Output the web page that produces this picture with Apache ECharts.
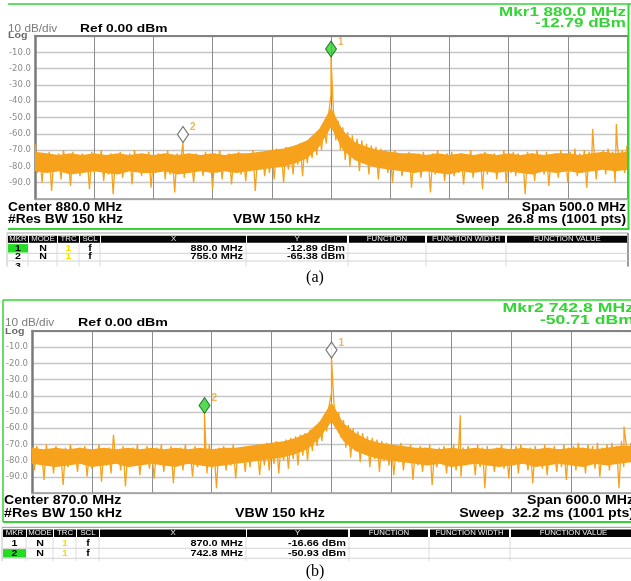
<!DOCTYPE html>
<html>
<head>
<meta charset="utf-8">
<script src="https://cdn.jsdelivr.net/npm/echarts@6/dist/echarts.min.js"></script>
<style>
  html, body { margin: 0; padding: 0; background: #fff; }
  #main { width: 631px; height: 581px; }
</style>
</head>
<body>
<div id="main"></div>
<script>
// ---- panel (a) ----
var centerA = 880.0, spanA = 500.0, sweepA = '26.8', stepA = 2.0;
var noiseA = [
  -66, -84, -72, -90, -73, -81, -71, -95, -74, -83,
  -72, -88, -70, -79, -75, -92, -71, -82, -73, -86,
  -72, -80, -74, -94, -71, -84, -76, -81, -70, -89,
  -73, -85, -72, -97, -74, -80, -71, -87, -75, -83,
  -72, -91, -70, -82, -74, -86, -73, -79, -71, -93,
  -75, -84, -72, -81, -73, -88, -70, -85, -74, -96,
  -72, -80, -71, -87, -73, -83, -74, -90, -72, -82,
  -75, -86, -71, -81, -73, -94, -72, -84, -70, -88,
  -74, -82, -72, -91, -73, -80, -71, -85, -75, -89,
  -72, -83, -70, -95, -74, -81, -72, -86, -71, -84,
  -70, -88, -69, -80, -71, -90, -68, -82, -69, -85,
  -67, -79, -66, -86, -65, -78, -63, -75, -62, -73,
  -58, -70, -54, -66, -48, -36, -45, -64, -52, -70,
  -56, -76, -59, -80, -61, -74, -63, -83, -64, -78,
  -66, -85, -67, -79, -68, -88, -69, -81, -70, -84,
  -71, -90, -70, -82, -72, -86, -73, -80, -71, -93,
  -74, -83, -72, -87, -71, -81, -73, -96, -72, -85,
  -70, -82, -74, -89, -72, -80, -71, -86, -75, -84,
  -72, -91, -73, -81, -70, -87, -74, -83, -72, -94,
  -71, -85, -73, -80, -72, -88, -74, -82, -70, -90,
  -73, -84, -71, -86, -72, -81, -75, -97, -71, -83,
  -72, -89, -70, -80, -74, -85, -71, -92, -73, -82,
  -72, -87, -70, -83, -73, -90, -71, -81, -69, -86,
  -72, -84, -70, -93, -71, -80, -69, -88, -72, -82,
  -70, -85, -69, -81, -71, -90, -68, -79, -70, -84,
  -67
];
// dense part of the noise floor, every 10 MHz
var bandStepA = 10;
var bandTopA = [
  -71, -72, -73, -72, -73, -72, -73, -72, -73, -72,
  -73, -72, -73, -72, -73, -72, -73, -72, -72, -71,
  -70, -69, -67, -64, -57, -44, -58, -65, -68, -70,
  -71, -72, -72, -73, -72, -73, -72, -73, -72, -73,
  -72, -73, -72, -73, -72, -72, -73, -72, -71, -72, -71
];
var bandBotA = [
  -83, -84, -83, -85, -84, -83, -84, -85, -83, -84,
  -84, -83, -85, -84, -83, -84, -83, -84, -83, -82,
  -81, -80, -78, -75, -68, -56, -70, -76, -79, -81,
  -82, -83, -84, -83, -84, -85, -83, -84, -83, -84,
  -83, -84, -85, -83, -84, -83, -84, -83, -82, -83, -82
];
// [offset from center MHz, level dBm]
var spikesA = [[-125, -65.38], [0, -12.89], [221, -57], [241, -54]];
var mkrFreqA = [880.0, 755.0];
var mkrLevelA = [-12.89, -65.38];
var activeA = 0;
var readFreqA = 880.0, readLevelA = -12.79;

// ---- panel (b) ----
var centerB = 870.0, spanB = 600.0, sweepB = '32.2', stepB = 2.4;
var noiseB = [
  -72, -86, -71, -80, -74, -92, -70, -83, -73, -88,
  -71, -81, -75, -95, -72, -84, -70, -79, -74, -87,
  -72, -82, -71, -90, -73, -85, -75, -80, -70, -93,
  -74, -83, -72, -88, -64, -81, -73, -86, -71, -96,
  -74, -84, -72, -80, -70, -89, -73, -82, -71, -85,
  -75, -91, -72, -81, -70, -87, -74, -83, -71, -94,
  -73, -80, -72, -86, -70, -82, -74, -90, -71, -84,
  -73, -81, -72, -88, -70, -85, -74, -97, -72, -80,
  -71, -86, -73, -83, -70, -91, -74, -81, -72, -87,
  -71, -84, -73, -80, -70, -89, -72, -83, -69, -86,
  -70, -82, -68, -88, -69, -80, -67, -85, -66, -79,
  -65, -83, -64, -77, -63, -80, -61, -74, -59, -71,
  -56, -68, -52, -62, -46, -38, -44, -60, -50, -66,
  -55, -72, -58, -78, -60, -74, -62, -81, -63, -76,
  -65, -84, -66, -79, -67, -87, -68, -80, -69, -83,
  -70, -89, -71, -81, -69, -86, -72, -80, -70, -92,
  -73, -83, -71, -87, -72, -81, -70, -95, -74, -84,
  -72, -80, -71, -88, -73, -82, -70, -86, -74, -90,
  -72, -83, -71, -80, -73, -89, -70, -84, -72, -97,
  -71, -82, -74, -87, -72, -80, -70, -85, -73, -91,
  -72, -83, -71, -88, -70, -81, -74, -86, -72, -94,
  -71, -80, -73, -85, -70, -89, -72, -82, -71, -87,
  -73, -84, -70, -92, -72, -81, -71, -86, -69, -83,
  -72, -88, -70, -80, -71, -85, -69, -90, -72, -82,
  -70, -86, -69, -81, -71, -97, -68, -84, -70, -80,
  -69
];
var bandStepB = 12;
var bandTopB = [
  -72, -73, -72, -73, -72, -73, -72, -73, -72, -73,
  -72, -73, -72, -73, -72, -73, -72, -72, -71, -70,
  -69, -68, -66, -63, -56, -44, -57, -63, -67, -69,
  -70, -71, -72, -72, -73, -72, -73, -72, -73, -72,
  -73, -72, -73, -72, -73, -72, -72, -73, -72, -71, -71
];
var bandBotB = [
  -82, -83, -84, -83, -82, -84, -83, -82, -84, -83,
  -82, -83, -84, -82, -83, -84, -83, -82, -81, -80,
  -79, -78, -76, -73, -66, -56, -68, -74, -77, -79,
  -80, -81, -82, -83, -82, -84, -83, -82, -83, -84,
  -83, -82, -84, -83, -82, -83, -84, -82, -83, -82, -81
];
var spikesB = [[-127.2, -50.93], [0, -16.66], [129, -52], [293, -59]];
var mkrFreqB = [870.0, 742.8];
var mkrLevelB = [-16.66, -50.93];
var activeB = 1;
var readFreqB = 742.8, readLevelB = -50.71;

var headers = ['MKR', 'MODE', 'TRC', 'SCL', 'X', 'Y', 'FUNCTION', 'FUNCTION WIDTH', 'FUNCTION VALUE'];

var GREEN = '#33d433';
var ORANGE = '#f6a21c';
var SANS = '"Liberation Sans", Arial, sans-serif';

function buildTrace(noise, step, spikes, span) {
  var pts = noise.map(function (v, i) { return [-span / 2 + i * step, v]; });
  spikes.forEach(function (s) { pts.push(s); });
  pts.sort(function (a, b) { return a[0] - b[0]; });
  return pts;
}

// text placed by baseline
function txt(x, base, s, o) {
  o = o || {};
  var fs = o.size || 12;
  return {
    type: 'text', x: x, y: o.mid != null ? o.mid : base - 0.35 * fs, scaleX: o.sx || 1, z: 20, silent: true,
    style: {
      text: s, fill: o.color || '#000', fontSize: fs,
      fontWeight: o.bold ? 'bold' : 'normal', fontFamily: o.family || SANS,
      align: o.align || 'left', verticalAlign: 'middle'
    }
  };
}
function ln(x1, y1, x2, y2, color, w) {
  return { type: 'line', z: 15, silent: true, shape: { x1: x1, y1: y1, x2: x2, y2: y2 }, style: { stroke: color, lineWidth: w } };
}
function box(x, y, w, h, fill, z) {
  return { type: 'rect', z: z || 16, silent: true, shape: { x: x, y: y, width: w, height: h }, style: { fill: fill } };
}

function panelGraphics(L, d) {
  var g = [];
  // green frame
  L.green.forEach(function (s) { g.push(ln(s[0], s[1], s[2], s[3], GREEN, s[4])); });
  // marker readout
  g.push(txt(L.readX, L.readY[0], 'Mkr' + (d.active + 1) + ' ' + d.readFreq.toFixed(1) + ' MHz', { size: 12, bold: true, color: GREEN, align: 'right', sx: L.readSx }));
  g.push(txt(L.readX, L.readY[1], d.readLevel.toFixed(2) + ' dBm', { size: 12, bold: true, color: GREEN, align: 'right', sx: L.readSx }));
  // scale header
  g.push(txt(L.hdrX, L.hdrY, '10 dB/div', { size: 10, color: '#7c7c7c', sx: 1.18 }));
  g.push(txt(L.hdrX, L.logY, 'Log', { size: 8.5, bold: true, color: '#6a6a6a', sx: 1.25 }));
  g.push(txt(L.refX, L.hdrY, 'Ref 0.00 dBm', { size: 10, bold: true, sx: L.refSx }));
  // footer
  g.push(txt(L.footX, L.footY[0], 'Center ' + d.center.toFixed(1) + ' MHz', { size: 12, bold: true, sx: L.footSx }));
  g.push(txt(L.footX, L.footY[1], '#Res BW 150 kHz', { size: 12, bold: true, sx: L.footSx }));
  g.push(txt(L.vbwX, L.footY[1], 'VBW 150 kHz', { size: 12, bold: true, sx: L.footSx }));
  g.push(txt(L.rightX, L.footY[0], 'Span ' + d.span.toFixed(1) + ' MHz', { size: 12, bold: true, align: 'right', sx: L.footSx }));
  g.push(txt(L.rightX, L.footY[1], 'Sweep  ' + d.sweep + ' ms (1001 pts)', { size: 12, bold: true, align: 'right', sx: L.footSx }));

  // marker table
  var c = L.cols, t = L.tbl;
  var x0 = c[0][0] - 1, x1 = c[c.length - 1][1] + 1;
  g.push(ln(x0, t.frame, x1, t.frame, '#a8a8a8', 1.2));
  g.push(ln(x0, t.frame, x0, t.cut, '#c0c0c0', 1));
  g.push(ln(x1, t.frame, x1, t.cut, '#9a9a9a', 2));
  c.forEach(function (col, i) {
    g.push(box(col[0], t.head, col[1] - col[0], t.headH, '#050505'));
    g.push(txt((col[0] + col[1]) / 2, 0, headers[i], { mid: t.head + t.headH / 2, size: 6.5, color: '#f2f2f2', align: 'center', sx: 1.2 }));
    if (i > 0) g.push(ln(col[0] - 1, t.head + t.headH, col[0] - 1, t.cut, '#dcdcdc', 1));
  });
  d.freqs.forEach(function (f, i) {
    var b = t.rows[i];
    if (i === d.active) g.push(box(c[0][0], b - 7.6, c[0][1] - c[0][0], 8.4, '#22dd22'));
    g.push(ln(x0, b + 1.6, x1, b + 1.6, '#d4d4d4', 1));
    g.push(txt((c[0][0] + c[0][1]) / 2, b, String(i + 1), { size: 8.5, bold: true, align: 'center', sx: 1.25 }));
    g.push(txt((c[1][0] + c[1][1]) / 2, b, 'N', { size: 8.5, bold: true, align: 'center', sx: 1.25 }));
    g.push(txt((c[2][0] + c[2][1]) / 2, b, '1', { size: 8.5, bold: true, align: 'center', color: '#f4e200', sx: 1.25 }));
    g.push(txt((c[3][0] + c[3][1]) / 2, b, 'f', { size: 8.5, bold: true, align: 'center', sx: 1.25 }));
    g.push(txt(c[4][1] - 3, b, f.toFixed(1) + ' MHz', { size: 8.5, bold: true, align: 'right', sx: 1.28 }));
    g.push(txt(c[5][1] - 2, b, d.levels[i].toFixed(2) + ' dBm', { size: 8.5, bold: true, align: 'right', sx: 1.28 }));
  });
  // third row, cut off by the picture edge
  g.push(txt((c[0][0] + c[0][1]) / 2, t.rows[1] + 10.5, '3', { size: 8.5, bold: true, align: 'center', sx: 1.25 }));
  g.push(box(0, t.cut, 120, 9, '#ffffff', 30));
  g.push(box(120, t.cut, 511, 2, '#ffffff', 30));
  // caption
  g.push(txt(315, L.capY, d.caption, { size: 16, align: 'center', family: '"Liberation Serif", "Times New Roman", serif' }));
  return g;
}

var LA = {
  green: [[8, 4, 631, 4, 1.5], [628.5, 4, 628.5, 229, 2], [8, 229, 629.5, 229, 2]],
  readX: 626, readY: [17, 28], readSx: 1.42,
  hdrX: 8, hdrY: 33, logY: 38.8, refX: 80, refSx: 1.38,
  footX: 8, footY: [212, 224], vbwX: 233, rightX: 626, footSx: 1.15,
  cols: [[8, 28], [29, 57], [58, 79], [80, 100], [101, 246], [247, 347], [349, 425], [427, 505], [507, 627]],
  tbl: { frame: 233, head: 235.8, headH: 7, rows: [251.7, 259.4], cut: 266.7 },
  capY: 283
};
var LB = {
  green: [[3, 300, 631, 300, 1.5], [3, 300, 3, 522, 1.5], [3, 522, 631, 522, 2]],
  readX: 634, readY: [313, 325], readSx: 1.47,
  hdrX: 5, hdrY: 327, logY: 335, refX: 78, refSx: 1.42,
  footX: 4, footY: [505, 518], vbwX: 235, rightX: 634, footSx: 1.18,
  cols: [[3, 26], [27, 53], [54, 76], [77, 99], [100, 246], [247, 348], [350, 428], [430, 509], [511, 636]],
  tbl: { frame: 527.3, head: 529.5, headH: 7.5, rows: [546.7, 556.7], cut: 561 },
  capY: 577
};

function yAxisCfg(gi) {
  return {
    type: 'value', gridIndex: gi, min: -100, max: 0, interval: 10,
    axisLine: { show: true, onZero: false, lineStyle: { color: '#7a7a7a', width: 2.5 } },
    axisTick: { show: false },
    splitLine: { show: true, lineStyle: { color: '#c6c6c6', width: 1.3 } },
    axisLabel: {
      showMinLabel: false, showMaxLabel: false, color: '#8c8c8c', fontSize: 8.5,
      fontFamily: 'DejaVu Sans', margin: 4, padding: [0, 0, 3, 0],
      formatter: function (v) { return v.toFixed(1); }
    }
  };
}
function xAxisCfg(gi, half, step) {
  return {
    type: 'value', gridIndex: gi, min: -half, max: half, interval: step,
    axisLine: { show: true, onZero: false, lineStyle: { color: '#9a9a9a', width: 1.5 } },
    axisTick: { show: false }, axisLabel: { show: false },
    splitLine: { show: true, lineStyle: { color: '#8e8e8e', width: 1 } }
  };
}
function xTopCfg(gi, half) {
  return {
    type: 'value', gridIndex: gi, position: 'top', min: -half, max: half,
    axisLine: { show: true, onZero: false, lineStyle: { color: '#828282', width: 2 } },
    axisTick: { show: false }, axisLabel: { show: false }, splitLine: { show: false }
  };
}
function traceSeries(xi, yi, data) {
  return {
    type: 'line', xAxisIndex: xi, yAxisIndex: yi, data: data, symbol: 'none',
    lineStyle: { color: ORANGE, width: 1.3 }, z: 3, silent: true
  };
}
// solid part of the noise floor, drawn as one polygon between its upper and lower edge
function bandSeries(xi, yi, top, bot, step, span) {
  var rows = top.map(function (v, i) { return [-span / 2 + i * step, v, bot[i]]; });
  return {
    type: 'custom', coordinateSystem: 'cartesian2d', xAxisIndex: xi, yAxisIndex: yi,
    silent: true, z: 2, data: rows, encode: { x: 0, y: [1, 2] },
    renderItem: function (params, api) {
      if (params.dataIndex !== 0) return null;
      var pts = [];
      rows.forEach(function (r) { pts.push(api.coord([r[0], r[1]])); });
      for (var i = rows.length - 1; i >= 0; i--) pts.push(api.coord([rows[i][0], rows[i][2]]));
      return { type: 'polygon', shape: { points: pts }, style: { fill: ORANGE } };
    }
  };
}
function markerSeries(xi, yi, freqs, levels, center, active) {
  return {
    type: 'scatter', xAxisIndex: xi, yAxisIndex: yi, z: 6, silent: true,
    symbol: 'diamond', symbolSize: [11, 16], symbolOffset: [0, '-50%'],
    data: freqs.map(function (f, i) {
      return {
        name: String(i + 1), value: [f - center, levels[i]],
        itemStyle: i === active
          ? { color: '#2ad22a', borderColor: '#0d5a0d', borderWidth: 1 }
          : { color: '#ffffff', borderColor: '#555555', borderWidth: 1.2 }
      };
    }),
    label: {
      show: true, position: 'right', distance: 1, offset: [0, -7], formatter: '{b}',
      color: '#f0a030', fontSize: 10, fontWeight: 'bold', fontFamily: SANS
    }
  };
}

var chart = echarts.init(document.getElementById('main'));
var option = {
  animation: false,
  backgroundColor: '#ffffff',
  grid: [
    { left: 35, top: 36, width: 592, height: 163 },
    { left: 32, top: 331, width: 600, height: 162 }
  ],
  xAxis: [
    xAxisCfg(0, spanA / 2, 50), xTopCfg(0, spanA / 2),
    xAxisCfg(1, spanB / 2, 60), xTopCfg(1, spanB / 2)
  ],
  yAxis: [yAxisCfg(0), yAxisCfg(1)],
  series: [
    bandSeries(0, 0, bandTopA, bandBotA, bandStepA, spanA),
    traceSeries(0, 0, buildTrace(noiseA, stepA, spikesA, spanA)),
    markerSeries(0, 0, mkrFreqA, mkrLevelA, centerA, activeA),
    bandSeries(2, 1, bandTopB, bandBotB, bandStepB, spanB),
    traceSeries(2, 1, buildTrace(noiseB, stepB, spikesB, spanB)),
    markerSeries(2, 1, mkrFreqB, mkrLevelB, centerB, activeB)
  ],
  graphic: {
    elements: panelGraphics(LA, {
      active: activeA, readFreq: readFreqA, readLevel: readLevelA, center: centerA, span: spanA,
      sweep: sweepA, freqs: mkrFreqA, levels: mkrLevelA, caption: '(a)'
    }).concat(panelGraphics(LB, {
      active: activeB, readFreq: readFreqB, readLevel: readLevelB, center: centerB, span: spanB,
      sweep: sweepB, freqs: mkrFreqB, levels: mkrLevelB, caption: '(b)'
    }))
  }
};
chart.setOption(option);
</script>
</body>
</html>
